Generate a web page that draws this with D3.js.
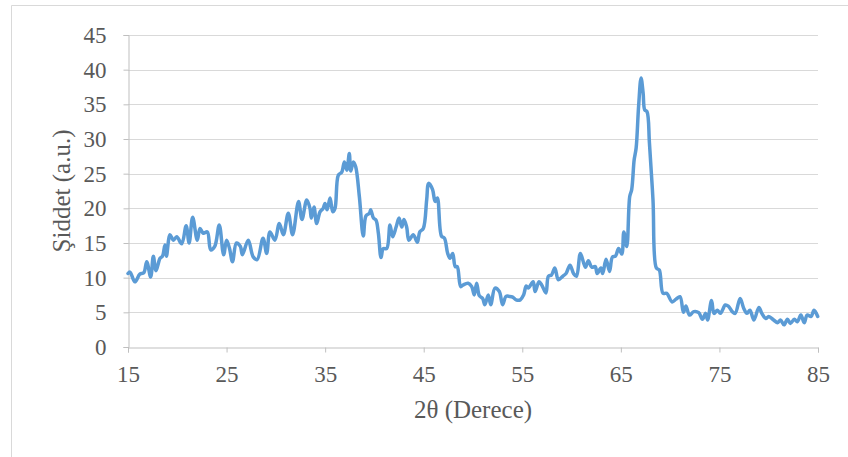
<!DOCTYPE html>
<html>
<head>
<meta charset="utf-8">
<script src="https://cdn.jsdelivr.net/npm/d3@7"></script>
<style>
  html, body { margin: 0; padding: 0; background: #ffffff; }
  svg { display: block; }
  text { font-family: "Liberation Serif", "Times New Roman", serif; fill: #595959; }
</style>
</head>
<body>
<svg id="chart" width="848" height="457"></svg>
<script>
// 2θ (degrees)
const twoTheta = [
  15.0, 15.2, 15.7, 16.2, 16.6, 16.9, 17.3, 17.57, 17.84, 18.25, 18.5, 18.75, 18.9, 19.26, 19.6, 19.94,
  20.45, 20.9, 21.2, 21.56, 22.03, 22.3, 22.64, 23.05, 23.39, 23.8, 24.26, 24.7, 25.0, 25.3, 25.6, 26.0,
  26.4, 26.6, 27.2, 27.7, 28.1, 28.7, 29.07, 29.4, 29.9, 30.35, 30.76, 31.26, 31.7, 32.3, 32.65, 33.13,
  33.46, 33.6, 33.87, 34.14, 34.48, 34.8, 34.99, 35.2, 35.5, 35.77, 36.0, 36.34, 36.68, 36.95, 37.2, 37.45,
  37.6, 37.86, 38.1, 38.47, 38.87, 39.14, 39.5, 39.62, 39.9, 40.16, 40.4, 40.67, 40.9, 41.25, 41.58, 41.85,
  42.2, 42.5, 42.77, 43.0, 43.27, 43.5, 43.94, 44.35, 44.6, 44.96, 45.3, 45.5, 45.9, 46.15, 46.38, 46.8,
  47.1, 47.43, 47.67, 47.94, 48.2, 48.4, 48.75, 49.0, 49.5, 49.87, 50.13, 50.37, 50.64, 50.98, 51.2, 51.55,
  51.8, 52.23, 52.67, 53.0, 53.35, 53.7, 54.03, 54.37, 54.8, 55.13, 55.4, 55.6, 56.1, 56.3, 56.7, 56.97,
  57.4, 57.65, 57.97, 58.3, 58.66, 59.1, 59.44, 59.84, 60.2, 60.5, 60.9, 61.4, 61.7, 62.05, 62.4, 62.6,
  62.97, 63.16, 63.5, 63.85, 64.15, 64.45, 64.77, 65.1, 65.3, 65.6, 65.9, 66.1, 66.35, 66.55, 66.8, 67.05,
  67.26, 67.42, 67.65, 67.9, 68.26, 68.6, 68.9, 69.27, 69.65, 70.2, 70.6, 71.0, 71.35, 71.6, 71.96, 72.4,
  72.9, 73.27, 73.6, 73.8, 74.2, 74.45, 74.8, 75.1, 75.6, 75.9, 76.3, 76.6, 77.1, 77.46, 77.8, 78.1,
  78.5, 79.0, 79.3, 79.7, 80.0, 80.5, 80.9, 81.2, 81.55, 81.9, 82.2, 82.6, 82.9, 83.26, 83.6, 83.9,
  84.3, 84.6, 84.97
];
// Intensity (a.u.)
const intensity = [
  10.6, 10.8, 9.4, 10.5, 10.7, 12.3, 10.1, 13.1, 11.0, 12.8, 13.1, 14.7, 13.1, 16.2, 15.4, 15.9,
  14.9, 17.5, 15.0, 18.7, 15.4, 17.1, 16.4, 16.6, 14.0, 14.5, 17.6, 13.3, 15.4, 14.2, 12.3, 15.0,
  14.5, 13.3, 15.4, 13.0, 12.6, 15.7, 13.5, 16.6, 15.4, 17.8, 16.2, 19.3, 16.2, 21.0, 18.4, 21.2,
  20.0, 18.6, 20.2, 17.8, 19.5, 20.0, 20.7, 19.8, 21.5, 19.5, 20.0, 24.8, 25.2, 26.7, 25.5, 27.9,
  25.4, 26.7, 26.0, 21.7, 16.0, 18.9, 19.3, 19.8, 18.6, 18.3, 16.4, 12.9, 14.2, 14.2, 17.6, 15.9,
  17.3, 18.6, 17.3, 18.4, 17.3, 15.4, 16.2, 15.1, 16.6, 17.1, 21.2, 23.6, 22.7, 21.0, 21.5, 16.0,
  15.7, 13.5, 12.8, 13.5, 11.6, 11.6, 8.7, 8.95, 9.2, 8.7, 7.5, 9.2, 7.4, 7.0, 6.1, 7.5,
  6.1, 8.5, 8.0, 6.1, 7.3, 7.3, 7.2, 6.8, 6.8, 7.5, 8.8, 8.5, 9.4, 8.0, 9.4, 8.95,
  7.8, 10.2, 10.4, 11.4, 9.7, 10.2, 10.6, 11.8, 10.6, 10.2, 13.5, 11.5, 12.45, 11.5, 11.6, 10.6,
  11.4, 10.6, 12.65, 10.9, 13.0, 13.1, 14.2, 13.4, 16.6, 14.5, 21.7, 22.7, 27.0, 28.7, 34.7, 38.8,
  36.6, 34.2, 33.95, 29.4, 21.2, 11.4, 11.1, 7.75, 7.75, 6.5, 6.9, 7.26, 5.0, 5.9, 4.6, 5.1,
  4.95, 4.0, 4.85, 3.9, 6.7, 4.85, 5.3, 4.85, 6.06, 5.9, 5.1, 4.85, 7.0, 5.6, 4.85, 5.3,
  3.9, 5.7, 4.85, 4.1, 4.4, 3.9, 3.5, 3.9, 3.2, 4.0, 3.4, 4.0, 3.65, 4.6, 3.5, 4.6,
  4.4, 5.3, 4.4
];
const xTicks = [15, 25, 35, 45, 55, 65, 75, 85];
const yTicks = [0, 5, 10, 15, 20, 25, 30, 35, 40, 45];
const xTitle = "2θ (Derece)";
const yTitle = "Şiddet (a.u.)";

const svg = d3.select("#chart");
const W = 848, H = 457;
const plot = { left: 128, right: 818, top: 35, bottom: 347 };

// outer frame (left and top edges visible)
svg.append("path")
  .attr("d", `M11.5,${H} L11.5,5.5 L${W},5.5`)
  .attr("fill", "none").attr("stroke", "#d9d9d9").attr("stroke-width", 1);

const x = d3.scaleLinear().domain([15, 85]).range([plot.left, plot.right]);
const y = d3.scaleLinear().domain([0, 45]).range([plot.bottom, plot.top]);

// gridlines
svg.append("g").selectAll("line")
  .data(yTicks.filter(d => d > 0))
  .join("line")
  .attr("x1", plot.left).attr("x2", plot.right)
  .attr("y1", d => Math.round(y(d)) + 0.5).attr("y2", d => Math.round(y(d)) + 0.5)
  .attr("stroke", "#d9d9d9").attr("stroke-width", 1);

// y axis
const yAxis = svg.append("g")
  .attr("transform", `translate(${plot.left + 0.5},0)`)
  .call(d3.axisLeft(y).tickValues(yTicks).tickSize(5).tickPadding(17).tickFormat(d3.format("d")));
yAxis.select(".domain").attr("stroke", "#bfbfbf");
yAxis.selectAll(".tick line").attr("stroke", "#bfbfbf");
yAxis.selectAll(".tick text").attr("font-size", 23).attr("fill", "#595959")
  .attr("font-family", "'Liberation Serif', serif");

// x axis
const xAxis = svg.append("g")
  .attr("transform", `translate(0,${plot.bottom + 0.5})`)
  .call(d3.axisBottom(x).tickValues(xTicks).tickSize(5).tickPadding(13).tickFormat(d3.format("d")));
xAxis.select(".domain").attr("stroke", "#bfbfbf");
xAxis.selectAll(".tick line").attr("stroke", "#bfbfbf");
xAxis.selectAll(".tick text").attr("font-size", 23).attr("fill", "#595959")
  .attr("font-family", "'Liberation Serif', serif");

// data line
const pts = twoTheta.map((t, i) => [t, intensity[i]]);
svg.append("path")
  .datum(pts)
  .attr("fill", "none")
  .attr("stroke", "#5b9bd5")
  .attr("stroke-width", 3.5)
  .attr("stroke-linejoin", "round")
  .attr("stroke-linecap", "round")
  .attr("d", d3.line().x(d => x(d[0])).y(d => y(d[1])).curve(d3.curveCatmullRom.alpha(0.5)));

// axis titles
svg.append("text")
  .attr("x", (plot.left + plot.right) / 2)
  .attr("y", 418)
  .attr("text-anchor", "middle")
  .attr("font-size", 25)
  .text(xTitle);

svg.append("text")
  .attr("transform", `translate(70,${(plot.top + plot.bottom) / 2}) rotate(-90)`)
  .attr("text-anchor", "middle")
  .attr("font-size", 25)
  .text(yTitle);
</script>
</body>
</html>
